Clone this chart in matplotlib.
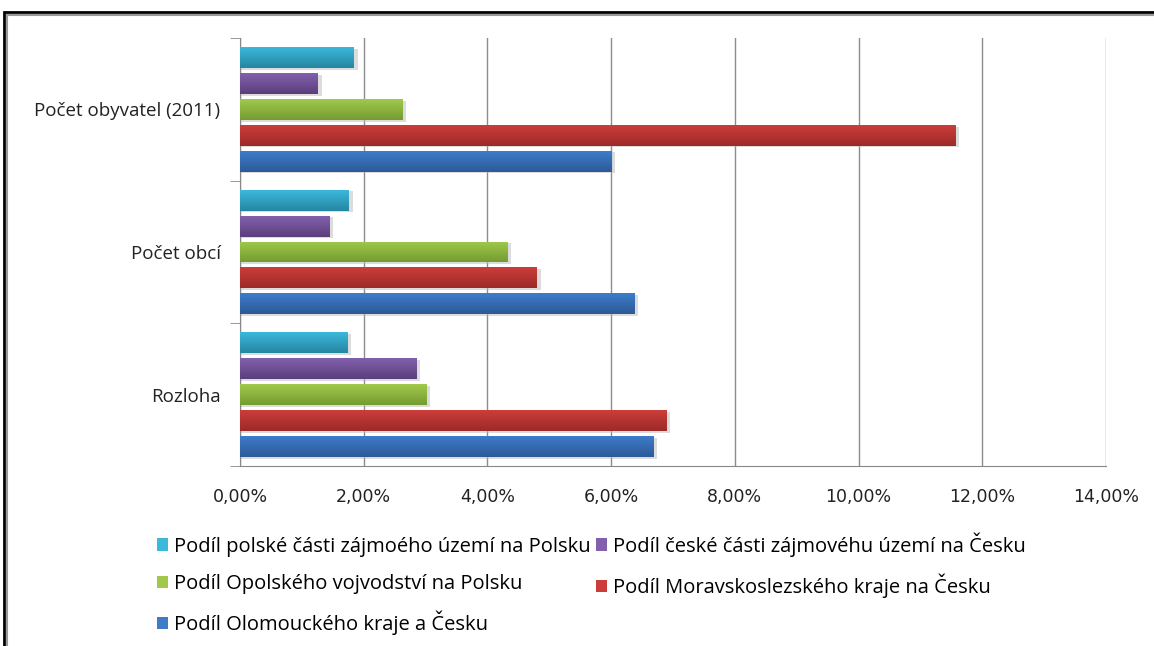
import numpy as np
import matplotlib
matplotlib.use("Agg")
import matplotlib.pyplot as plt
from matplotlib.patches import Rectangle
from matplotlib.ticker import FuncFormatter

categories = ["Rozloha", "Počet obcí", "Počet obyvatel (2011)"]
series_names = [
    "Podíl polské části zájmoého území na Polsku",
    "Podíl české části zájmovéhu území na Česku",
    "Podíl Opolského vojvodství na Polsku",
    "Podíl Moravskoslezského kraje na Česku",
    "Podíl Olomouckého kraje a Česku",
]
# values in %, order: Rozloha, Počet obcí, Počet obyvatel (2011)
polske = [1.73, 1.76, 1.84]
ceske = [2.85, 1.44, 1.26]
opolske = [3.01, 4.32, 2.63]
moravskoslezske = [6.89, 4.80, 11.56]
olomoucke = [6.68, 6.37, 6.01]
values = [polske, ceske, opolske, moravskoslezske, olomoucke]

top_colors = ["#3bb8da", "#8260ad", "#a0c94c", "#cc3d3a", "#3e7cca"]
bot_colors = ["#2686a2", "#5b3f7c", "#749c31", "#9c2a28", "#2c5a98"]

plt.rcParams["font.family"] = ["Open Sans", "DejaVu Sans"]

fig = plt.figure(figsize=(11.54, 6.46), dpi=100)
ax = fig.add_axes([240 / 1154, 1 - 466 / 646, 866 / 1154, 428 / 646])

y = np.arange(len(categories))
pitch = 0.182
height = 0.147
handles = []
for i, (vals, c_top, c_bot) in enumerate(zip(values, top_colors, bot_colors)):
    off = (2 - i) * pitch
    bars = ax.barh(y + off, vals, height=height, color=c_top, zorder=3,
                   label=series_names[i])
    handles.append(bars)
    # vertical gradient on each bar
    grad = np.linspace(0, 1, 64).reshape(-1, 1)
    cmap = matplotlib.colors.LinearSegmentedColormap.from_list(
        "g%d" % i, [c_top, c_bot])
    for b in bars:
        x0, y0 = b.get_x(), b.get_y()
        w, h = b.get_width(), b.get_height()
        # soft shadow
        ax.add_patch(Rectangle((x0, y0 - 0.012), w + 0.06, h, color="#bbbbbb",
                               alpha=0.5, zorder=2, lw=0))
        im = ax.imshow(grad, cmap=cmap, aspect="auto", zorder=4,
                       extent=(x0, x0 + w, y0, y0 + h), origin="upper")
        im.set_clip_path(b)

ax.set_xlim(0, 14)
ax.set_ylim(-0.5, 2.5)
ax.set_xticks(np.arange(0, 15, 2))
ax.xaxis.set_major_formatter(FuncFormatter(lambda v, p: f"{v:.2f}%".replace(".", ",")))
ax.set_yticks(y)
ax.set_yticklabels(categories)
ax.set_yticks([-0.5, 0.5, 1.5, 2.5], minor=True)
ax.tick_params(axis="y", which="major", length=0, pad=14, labelsize=13.5, labelcolor="#222222")
ax.tick_params(axis="y", which="minor", length=7, color="#888888")
ax.tick_params(axis="x", length=0, pad=16, labelsize=12.5, labelcolor="#222222")
for lab in ax.get_xticklabels():
    lab.set_family(["DejaVu Sans"])
    lab.set_fontsize(12.5)

ax.grid(axis="x", color="#8c8c8c", lw=1, zorder=0)
for s in ["top", "right"]:
    ax.spines[s].set_visible(False)
ax.spines["left"].set_color("#888888")
ax.spines["bottom"].set_color("#888888")

order = [0, 2, 4, 1, 3]
leg = fig.legend([handles[k] for k in order], [series_names[k] for k in order],
                 ncol=2, loc="upper left", bbox_to_anchor=(139 / 1154, 1 - 514 / 646),
                 frameon=False, handlelength=0.55, handleheight=0.55,
                 handletextpad=0.3, columnspacing=0.25, labelspacing=0.85,
                 prop={"family": ["Open Sans", "DejaVu Sans"], "size": 14.5})

# chart frame
fig.patches.append(Rectangle((4 / 1154, -0.1), 1.2, 1 - 12 / 646 + 0.1,
                             transform=fig.transFigure, fill=False,
                             edgecolor="black", lw=2))
fig.patches.append(Rectangle((7 / 1154, -0.1), 1.2, 1 - 15 / 646 + 0.1,
                             transform=fig.transFigure, fill=False,
                             edgecolor="#999999", lw=1.5))

fig.savefig("out.png", dpi=100)
